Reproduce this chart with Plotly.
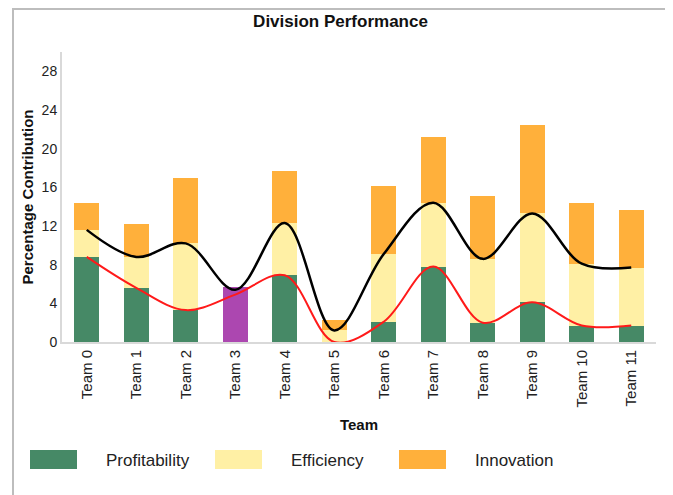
import plotly.graph_objects as go

teams = ["Team %d" % i for i in range(12)]
profitability = [8.8, 5.6, 3.3, 4.9, 6.9, 0.0, 2.1, 7.8, 2.0, 4.1, 1.7, 1.7]
efficiency = [2.8, 3.2, 6.9, 0.5, 5.4, 1.2, 7.0, 6.6, 6.6, 9.2, 6.4, 6.0]
innovation = [2.8, 3.4, 6.8, 0.3, 5.4, 1.1, 7.0, 6.8, 6.5, 9.1, 6.3, 6.0]
highlight = "Team 3"

green = "#468966"
yellow = "#FFF0A5"
orange = "#FFB03B"
purple = "#AC47B0"

def colors(base):
    return [purple if t == highlight else base for t in teams]

fig = go.Figure()
series = [("Profitability", profitability, green),
          ("Efficiency", efficiency, yellow),
          ("Innovation", innovation, orange)]
for name, vals, col in series:
    fig.add_trace(go.Bar(x=teams, y=vals, name=name, showlegend=False,
                         marker=dict(color=colors(col), line=dict(width=0))))

cum = [p + e for p, e in zip(profitability, efficiency)]
fig.add_trace(go.Scatter(x=teams, y=cum, mode="lines", showlegend=False,
                         line=dict(color="black", width=2.5, shape="spline")))
fig.add_trace(go.Scatter(x=teams, y=profitability, mode="lines", showlegend=False,
                         line=dict(color="#FF1A1A", width=2, shape="spline")))

# the page has an 8px body margin, so the figure is 8px smaller than the window
W = 594.0
H = 290.0
shapes = []
annotations = []
legend_x = [30, 215, 399]
for (name, vals, col), lx in zip(series, legend_x):
    shapes.append(dict(type="rect", xref="paper", yref="paper",
                       x0=(lx - 62) / W, x1=(lx + 47 - 62) / W,
                       y0=(342 - 469) / H, y1=(342 - 450) / H,
                       fillcolor=col, line=dict(width=0)))
    annotations.append(dict(text=name, xref="paper", yref="paper", showarrow=False,
                            x=(lx + 74 - 62) / W, y=(342 - 460) / H,
                            xanchor="left", yanchor="middle",
                            font=dict(size=17, color="#222")))
# outer frame
shapes.append(dict(type="rect", xref="paper", yref="paper", layer="below",
                   x0=(13 - 62) / W, x1=(667 - 62) / W,
                   y0=(342 - 520) / H, y1=(342 - 9) / H,
                   line=dict(color="#BDBDBD", width=2)))

fig.update_layout(
    barmode="stack",
    bargap=0.5,
    width=665, height=487,
    margin=dict(l=54, r=17, t=44, b=153),
    plot_bgcolor="white", paper_bgcolor="white",
    font=dict(family="Arial, Liberation Sans, sans-serif", color="#333", size=14),
    title=dict(text="<b>Division Performance</b>", x=0.5, xanchor="center",
               y=1 - 13 / 487, yanchor="middle", font=dict(size=17, color="#111")),
    shapes=shapes,
    annotations=annotations,
)
fig.update_xaxes(title=dict(text="<b>Team</b>", font=dict(size=15, color="#111"), standoff=13),
                 tickangle=-90, showline=True, linecolor="#D9D9D9", linewidth=2,
                 ticks="", showgrid=False, tickfont=dict(size=15, color="#222"))
fig.update_yaxes(title=dict(text="<b>Percentage Contribution</b>", font=dict(size=15, color="#111"), standoff=4),
                 range=[0, 30], tickvals=list(range(0, 29, 4)), showline=True,
                 linecolor="#D9D9D9", linewidth=2, ticks="", showgrid=False, zeroline=False,
                 tickfont=dict(size=14, color="#222"))

fig.write_html("out.html")
